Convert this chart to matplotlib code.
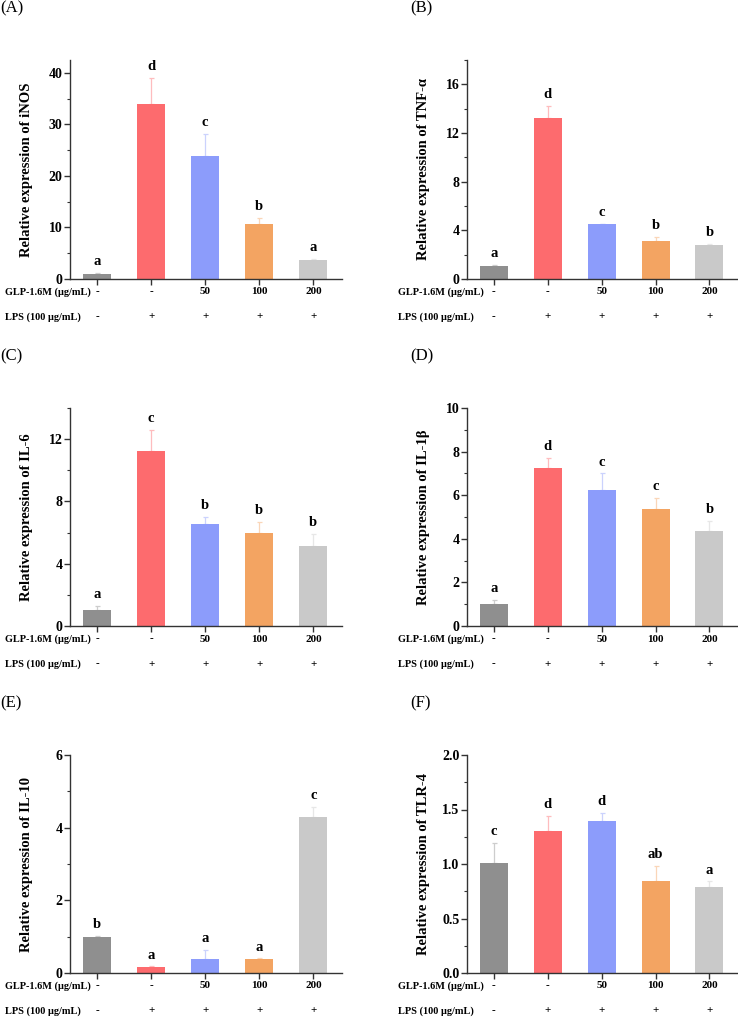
import matplotlib
matplotlib.use("Agg")
import matplotlib.pyplot as plt
import matplotlib.colors as mcolors
from matplotlib.transforms import blended_transform_factory as btf

plt.rcParams['font.family'] = ['Liberation Serif', 'DejaVu Serif']

# ---- data ----
groups = ["ctrl", "LPS", "50", "100", "200"]
glp_labels = ["-", "-", "50", "100", "200"]
lps_labels = ["-", "+", "+", "+", "+"]
bar_colors = ["#8f8f8f", "#fd6b6e", "#8c9cfb", "#f3a462", "#c9c9c9"]

panel_tags = ["(A)", "(B)", "(C)", "(D)", "(E)", "(F)"]
genes = ["iNOS", "TNF-α", "IL-6", "IL-1β", "IL-10", "TLR-4"]

inos_mean = [1.0, 33.9, 23.9, 10.7, 3.75]
inos_err = [0.1, 5.1, 4.3, 1.2, 0.2]
inos_sig = ["a", "d", "c", "b", "a"]

tnf_mean = [1.04, 13.24, 4.5, 3.13, 2.77]
tnf_err = [0.14, 0.96, 0.06, 0.3, 0.11]
tnf_sig = ["a", "d", "c", "b", "b"]

il6_mean = [1.03, 11.27, 6.54, 5.98, 5.12]
il6_err = [0.28, 1.33, 0.46, 0.72, 0.79]
il6_sig = ["a", "c", "b", "b", "b"]

il1b_mean = [1.01, 7.27, 6.26, 5.36, 4.35]
il1b_err = [0.18, 0.42, 0.74, 0.5, 0.46]
il1b_sig = ["a", "d", "c", "c", "b"]

il10_mean = [0.99, 0.17, 0.38, 0.38, 4.28]
il10_err = [0.03, 0.01, 0.26, 0.02, 0.3]
il10_sig = ["b", "a", "a", "a", "c"]

tlr4_mean = [1.01, 1.30, 1.39, 0.84, 0.79]
tlr4_err = [0.18, 0.14, 0.08, 0.14, 0.05]
tlr4_sig = ["c", "d", "d", "ab", "a"]

means = [inos_mean, tnf_mean, il6_mean, il1b_mean, il10_mean, tlr4_mean]
errs = [inos_err, tnf_err, il6_err, il1b_err, il10_err, tlr4_err]
sigs = [inos_sig, tnf_sig, il6_sig, il1b_sig, il10_sig, tlr4_sig]
ymaxes = [42.5, 18, 14, 10, 6, 2.0]
yticks = [[0, 10, 20, 30, 40], [0, 4, 8, 12, 16], [0, 4, 8, 12],
          [0, 2, 4, 6, 8, 10], [0, 2, 4, 6], [0.0, 0.5, 1.0, 1.5, 2.0]]
minor_steps = [5, 2, 2, 1, 1, 0.25]

W, H = 738, 1018
fig = plt.figure(figsize=(W / 100, H / 100), dpi=100)

col_x = [70, 467]
col_w = [272, 271]
rows = [(60, 279), (408, 626), (755, 973)]
tag_x = [0, 410]
lab_x = [5, 398]

axis_col = "#333333"

def tint(c, f=0.55):
    r, g, b = mcolors.to_rgb(c)
    return (r + (1 - r) * f, g + (1 - g) * f, b + (1 - b) * f)

x = list(range(len(groups)))
for i in range(6):
    r, cidx = divmod(i, 2)
    top, bot = rows[r]
    ax = fig.add_axes([col_x[cidx] / W, 1 - bot / H, col_w[cidx] / W, (bot - top) / H])
    m, e = means[i], errs[i]
    ax.bar(x, m, width=0.52, color=bar_colors, zorder=2)
    for xi, mi, ei, c in zip(x, m, e, bar_colors):
        ax.errorbar(xi, mi, yerr=[[0], [ei]], fmt='none', ecolor=tint(c),
                    elinewidth=0.9, capsize=1.8, capthick=0.9, zorder=1)
        ax.annotate(sigs[i][xi], (xi, mi + ei), xytext=(0, 3.5), textcoords='offset points',
                    ha='center', va='bottom', fontsize=10.5, fontweight='bold')
    ax.set_xlim(-0.5, 4.53)
    ax.set_ylim(0, ymaxes[i])
    ax.set_yticks(yticks[i])
    if i == 5:
        ax.set_yticklabels([f"{t:.1f}" for t in yticks[i]])
    ax.yaxis.set_minor_locator(matplotlib.ticker.MultipleLocator(minor_steps[i]))
    ax.set_xticks(x)
    ax.set_xticklabels([])
    for s in ['top', 'right']:
        ax.spines[s].set_visible(False)
    for s in ['left', 'bottom']:
        ax.spines[s].set_color(axis_col)
        ax.spines[s].set_linewidth(1.0)
    ax.tick_params(axis='both', which='major', direction='out', length=4, width=1.0,
                   color=axis_col, labelsize=10, pad=1.5)
    ax.tick_params(axis='y', which='minor', direction='out', length=2.5, width=0.8, color=axis_col)
    for lbl in ax.get_yticklabels():
        lbl.set_fontweight('bold')
    ax.set_ylabel(f"Relative expression of {genes[i]}", fontsize=10.5, fontweight='bold')
    ax.yaxis.set_label_coords(-37 / col_w[cidx], 0.5)

    h = bot - top
    tr = btf(ax.transData, ax.transAxes)
    trl = btf(fig.transFigure, ax.transAxes)
    y1 = -13 / h
    y2 = -38 / h
    for xi in x:
        ax.text(xi, y1, glp_labels[xi], transform=tr, ha='center', va='center',
                fontsize=8, fontweight='bold', clip_on=False)
        ax.text(xi, y2, lps_labels[xi], transform=tr, ha='center', va='center',
                fontsize=8, fontweight='bold', clip_on=False)
    ax.text(lab_x[cidx] / W, y1, "GLP-1.6M (μg/mL)", transform=trl, ha='left', va='center',
            fontsize=7.4, fontweight='bold')
    ax.text(lab_x[cidx] / W, y2, "LPS (100 μg/mL)", transform=trl, ha='left', va='center',
            fontsize=7.4, fontweight='bold')
    fig.text(tag_x[cidx] / W, 1 - (top - 52) / H, panel_tags[i], ha='left', va='center',
             fontsize=12)

fig.savefig("out.png", dpi=100)
